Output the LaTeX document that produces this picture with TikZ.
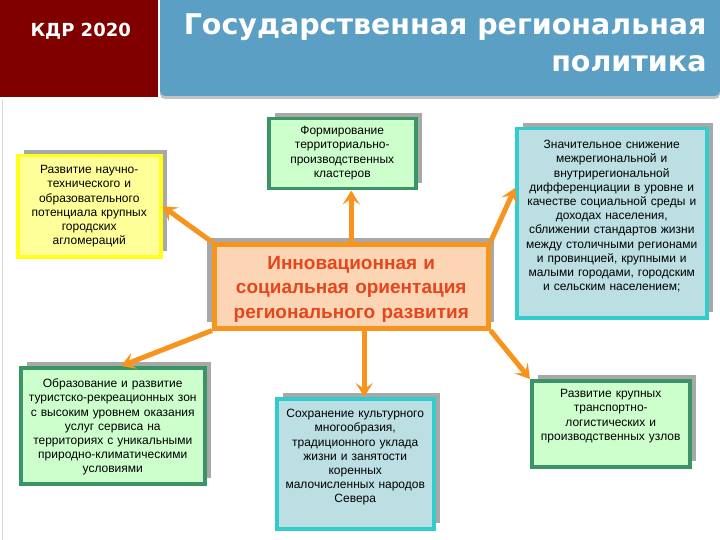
\documentclass[tikz,border=0pt]{standalone}
\usepackage{fontspec}
\setmainfont{Liberation Sans}
\newfontfamily\headfont{DejaVu Sans}
\usetikzlibrary{arrows.meta,shadows}
\definecolor{kdrred}{HTML}{800000}
\definecolor{headblue}{HTML}{5B9FC5}
\definecolor{boxyellow}{HTML}{FFFF99}
\definecolor{lineyellow}{HTML}{FFFF1A}
\definecolor{boxgreen}{HTML}{CCFFCC}
\definecolor{linegreen}{HTML}{3A9466}
\definecolor{boxteal}{HTML}{BCDFE3}
\definecolor{lineteal}{HTML}{33CCCC}
\definecolor{boxpeach}{HTML}{FCD5B5}
\definecolor{lineorange}{HTML}{F7941D}
\definecolor{textorange}{HTML}{E5461C}
\definecolor{shadowgray}{HTML}{A8A8A8}
\tikzset{
  goal/.style={rectangle, line width=3.5pt, inner xsep=3pt, inner ysep=0pt,
    align=center, anchor=north west, font=\fontsize{12}{14.2}\selectfont,
    drop shadow={shadow xshift=6pt, shadow yshift=6pt, fill=shadowgray, opacity=1}},
  yellowgoal/.style={goal, draw=lineyellow, fill=boxyellow},
  greengoal/.style={goal, draw=linegreen, fill=boxgreen},
  tealgoal/.style={goal, draw=lineteal, fill=boxteal},
  link/.style={draw=lineorange, line width=5pt,
    -{Stealth[length=14pt, width=17pt, inset=6pt]}},
  headtext/.style={text=white, font=\headfont\bfseries\fontsize{28.5}{30}\selectfont}
}

\begin{document}
\begin{tikzpicture}[x=1pt, y=-1pt]
  \useasboundingbox (0,0) rectangle (720,540);
  % header
	\fill[kdrred] (0,0) rectangle (158,97);
	\fill[headblue, rounded corners=5pt,
	  drop shadow={shadow xshift=0pt, shadow yshift=-3pt, fill=shadowgray, opacity=0.7}]
	  (160,-10) rectangle (720,96);
	\draw[black!15, line width=1pt] (2,100) -- (2,540);
	\node[anchor=base west, text=white, font=\headfont\bfseries\fontsize{18}{20}\selectfont] (kdr) at (27,37) {КДР 2020};
	\node[anchor=base east, headtext] (title1) at (710,35) {Государственная региональная};
	\node[anchor=base east, headtext] (title2) at (710,72) {политика};
  % nodes
	\node[yellowgoal, text width=137, text height=18, text depth=83] (science) at (16,154)
	  {Развитие научно-\\технического и\\образовательного\\потенциала крупных\\городских\\агломераций};
	\node[greengoal, text width=141, text height=16, text depth=54] (clusters) at (267,117)
	  {Формирование\\территориально-\\производственных\\кластеров};
	\node[goal, draw=lineorange, fill=boxpeach, line width=4.5pt, text=textorange,
	  font=\bfseries\fontsize{19}{24.5}\selectfont,
	  drop shadow={shadow xshift=-7pt, shadow yshift=6pt, fill=shadowgray, opacity=1},
	  text width=268, text height=25, text depth=59] (innov) at (212,242)
	  {Инновационная и\\социальная ориентация\\регионального развития};
	\node[tealgoal, text width=184, text height=20, text depth=169] (equality) at (515,127)
	  {Значительное снижение\\межрегиональной и\\внутрирегиональной\\дифференциации в уровне и\\качестве социальной среды и\\доходах населения,\\сближении стандартов жизни\\между столичными регионами\\и провинцией, крупными и\\малыми городами, городским\\и сельским населением;};
	\node[greengoal, text width=178, text height=20, text depth=96] (tourism) at (19,366)
	  {Образование и развитие\\туристско-рекреационных зон\\с высоким уровнем оказания\\услуг сервиса на\\территориях с уникальными\\природно-климатическими\\условиями};
	\node[tealgoal, text width=151, text height=19, text depth=111] (culture) at (275,397)
	  {Сохранение культурного\\многообразия,\\традиционного уклада\\жизни и занятости\\коренных\\малочисленных народов\\Севера};
	\node[greengoal, text width=152, text height=17, text depth=69] (transport) at (530,379)
	  {Развитие крупных\\транспортно-\\логистических и\\производственных узлов};
  % edges
	\draw[link] (innov.north) -- (innov.north |- clusters.south);
	\draw[link] (innov.north west) -- (science.east);
	\draw[link] (innov.north east) -- (equality.160);
	\draw[link] (innov.south west) -- (tourism.82);
	\draw[link] ([xshift=13pt]innov.south) -- ([xshift=13pt]innov.south |- culture.north);
	\draw[link] (innov.south east) -- (transport.north west);
\end{tikzpicture}
\end{document}
